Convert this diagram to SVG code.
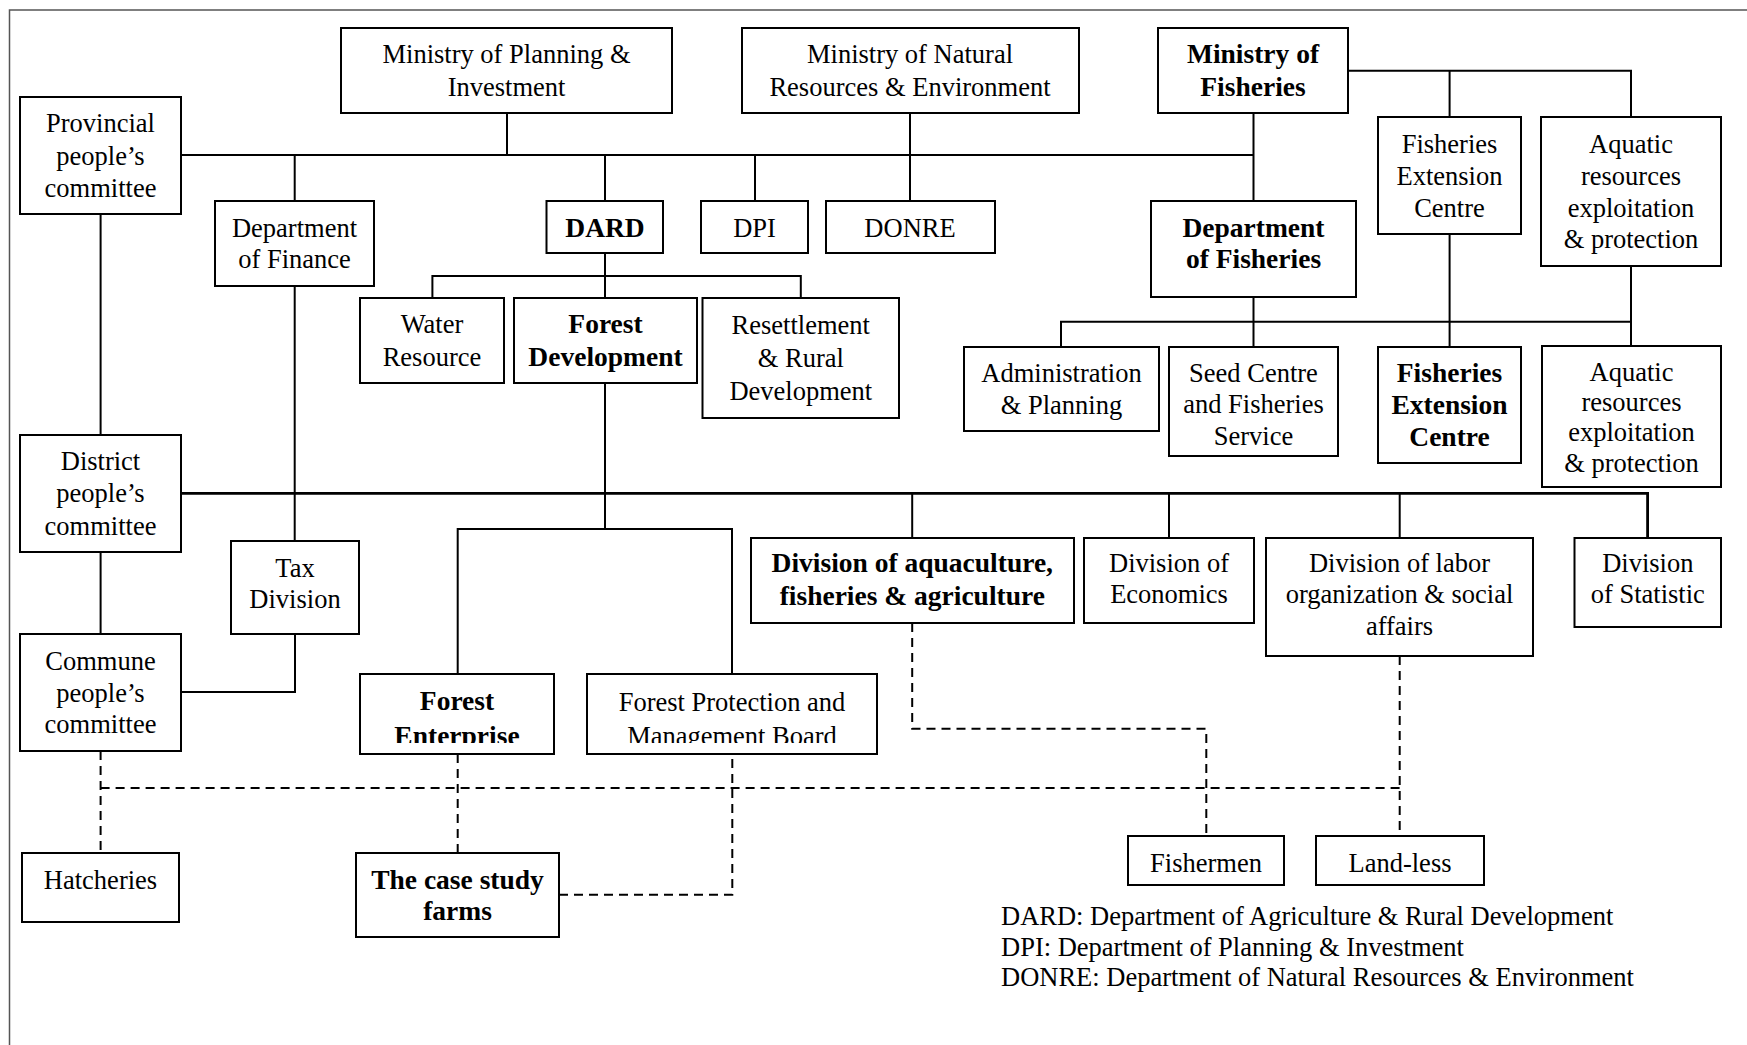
<svg xmlns="http://www.w3.org/2000/svg" width="1747" height="1045" viewBox="0 0 1747 1045">
<style>
.box{fill:#fff;stroke:#000;stroke-width:2}
.t{font-family:"Liberation Serif","Times New Roman",serif;font-size:26.5px;text-anchor:middle;fill:#000}
.b{font-weight:bold;font-size:27.5px}
.c{fill:none;stroke:#000;stroke-width:2}
.thick{stroke-width:2.8}
.d{fill:none;stroke:#000;stroke-width:2;stroke-dasharray:9 6}
.leg{font-family:"Liberation Serif","Times New Roman",serif;font-size:26.5px;fill:#000}
</style>
<defs>
<clipPath id="clipFE"><rect x="355" y="670" width="205" height="73"/></clipPath>
<clipPath id="clipFP"><rect x="585" y="670" width="295" height="73"/></clipPath>
</defs>
<rect width="1747" height="1045" fill="#fff"/>
<path d="M 9.5 1045 V 10 H 1747" fill="none" stroke="#555" stroke-width="1.5"/>
<g id="connectors">
<path class="c" d="M 181 155 H 1253.5"/>
<path class="c" d="M 507 113 V 155"/>
<path class="c" d="M 910 113 V 201"/>
<path class="c" d="M 1253.5 113 V 201"/>
<path class="c" d="M 294.7 155 V 201"/>
<path class="c" d="M 605 155 V 201"/>
<path class="c" d="M 755 155 V 201"/>
<path class="c" d="M 100.6 214 V 435"/>
<path class="c" d="M 294.7 286 V 541"/>
<path class="c" d="M 605 253 V 298"/>
<path class="c" d="M 432.4 298 V 276 H 800.8 V 298"/>
<path class="c" d="M 1348 70.7 H 1631 V 117"/>
<path class="c" d="M 1449.6 70.7 V 117"/>
<path class="c" d="M 1253.5 297 V 347"/>
<path class="c" d="M 1061 347 V 321.7 H 1631 V 346"/>
<path class="c" d="M 1449.6 234 V 347"/>
<path class="c" d="M 1631 266 V 321.7"/>
<path class="c thick" d="M 181 493.3 H 1647.6 V 538"/>
<path class="c" d="M 605 383 V 529"/>
<path class="c" d="M 457.7 674 V 529 H 732 V 674"/>
<path class="c" d="M 912.2 493 V 538"/>
<path class="c" d="M 1169 493 V 538"/>
<path class="c" d="M 1399.7 493 V 538"/>
<path class="c" d="M 100.6 552 V 634"/>
<path class="c" d="M 295 634 V 692 H 181"/>
<path class="d" d="M 100.6 751 V 853"/>
<path class="d" d="M 100.6 788 H 1400"/>
<path class="d" d="M 457.7 754 V 853"/>
<path class="d" d="M 559 894.7 H 732.3 V 754"/>
<path class="d" d="M 912.2 623 V 728.7 H 1206.3 V 836"/>
<path class="d" d="M 1399.7 656 V 836"/>
</g>
<g id="prov"><rect class="box" x="20" y="97" width="161" height="117"/><text class="t" x="100.5" y="132">Provincial</text><text class="t" x="100.5" y="165">people’s</text><text class="t" x="100.5" y="197">committee</text></g>
<g id="minplan"><rect class="box" x="341" y="28" width="331" height="85"/><text class="t" x="506.5" y="63">Ministry of Planning &amp;</text><text class="t" x="506.5" y="96">Investment</text></g>
<g id="minnat"><rect class="box" x="742" y="28" width="337" height="85"/><text class="t" x="910" y="63">Ministry of Natural</text><text class="t" x="910" y="96">Resources &amp; Environment</text></g>
<g id="minfish"><rect class="box" x="1158" y="28" width="190" height="85"/><text class="t b" x="1253" y="63">Ministry of</text><text class="t b" x="1253" y="96">Fisheries</text></g>
<g id="finance"><rect class="box" x="215" y="201" width="159" height="85"/><text class="t" x="294.5" y="237">Department</text><text class="t" x="294.5" y="268">of Finance</text></g>
<g id="dard"><rect class="box" x="546.5" y="201" width="116.5" height="52"/><text class="t b" x="605" y="237">DARD</text></g>
<g id="dpi"><rect class="box" x="701" y="201" width="107" height="52"/><text class="t" x="754.5" y="237">DPI</text></g>
<g id="donre"><rect class="box" x="826" y="201" width="169" height="52"/><text class="t" x="910" y="237">DONRE</text></g>
<g id="deptfish"><rect class="box" x="1151" y="201" width="205" height="96"/><text class="t b" x="1253.5" y="237">Department</text><text class="t b" x="1253.5" y="268">of Fisheries</text></g>
<g id="fec1"><rect class="box" x="1378" y="117" width="143" height="117"/><text class="t" x="1449.5" y="153">Fisheries</text><text class="t" x="1449.5" y="185">Extension</text><text class="t" x="1449.5" y="217">Centre</text></g>
<g id="aq1"><rect class="box" x="1541" y="117" width="180" height="149"/><text class="t" x="1631" y="153">Aquatic</text><text class="t" x="1631" y="185">resources</text><text class="t" x="1631" y="217">exploitation</text><text class="t" x="1631" y="248">&amp; protection</text></g>
<g id="water"><rect class="box" x="360" y="298" width="144" height="85"/><text class="t" x="432" y="333">Water</text><text class="t" x="432" y="366">Resource</text></g>
<g id="forestdev"><rect class="box" x="514" y="298" width="183" height="85"/><text class="t b" x="605.5" y="333">Forest</text><text class="t b" x="605.5" y="366">Development</text></g>
<g id="resettle"><rect class="box" x="702.5" y="298" width="196.5" height="120"/><text class="t" x="800.8" y="334">Resettlement</text><text class="t" x="800.8" y="367">&amp; Rural</text><text class="t" x="800.8" y="400">Development</text></g>
<g id="admin"><rect class="box" x="964" y="347" width="195" height="84"/><text class="t" x="1061.5" y="382">Administration</text><text class="t" x="1061.5" y="414">&amp; Planning</text></g>
<g id="seed"><rect class="box" x="1169" y="347" width="169" height="109"/><text class="t" x="1253.5" y="382">Seed Centre</text><text class="t" x="1253.5" y="413">and Fisheries</text><text class="t" x="1253.5" y="445">Service</text></g>
<g id="fec2"><rect class="box" x="1378" y="347" width="143" height="116"/><text class="t b" x="1449.5" y="382">Fisheries</text><text class="t b" x="1449.5" y="414">Extension</text><text class="t b" x="1449.5" y="446">Centre</text></g>
<g id="aq2"><rect class="box" x="1542" y="346" width="179" height="141"/><text class="t" x="1631.5" y="381">Aquatic</text><text class="t" x="1631.5" y="411">resources</text><text class="t" x="1631.5" y="441">exploitation</text><text class="t" x="1631.5" y="472">&amp; protection</text></g>
<g id="district"><rect class="box" x="20" y="435" width="161" height="117"/><text class="t" x="100.5" y="470">District</text><text class="t" x="100.5" y="502">people’s</text><text class="t" x="100.5" y="535">committee</text></g>
<g id="tax"><rect class="box" x="231" y="541" width="128" height="93"/><text class="t" x="295" y="577">Tax</text><text class="t" x="295" y="608">Division</text></g>
<g id="commune"><rect class="box" x="20" y="634" width="161" height="117"/><text class="t" x="100.5" y="670">Commune</text><text class="t" x="100.5" y="702">people’s</text><text class="t" x="100.5" y="733">committee</text></g>
<g id="forestent"><rect class="box" x="360" y="674" width="194" height="80"/><g clip-path="url(#clipFE)"><text class="t b" x="457" y="710">Forest</text><text class="t b" x="457" y="745">Enterprise</text></g></g>
<g id="fpmb"><rect class="box" x="587" y="674" width="290" height="80"/><g clip-path="url(#clipFP)"><text class="t" x="732" y="711">Forest Protection and</text><text class="t" x="732" y="745">Management Board</text></g></g>
<g id="divaqua"><rect class="box" x="751" y="538" width="323" height="85"/><text class="t b" x="912.3" y="572">Division of aquaculture,</text><text class="t b" x="912.3" y="605">fisheries &amp; agriculture</text></g>
<g id="econ"><rect class="box" x="1084" y="538" width="170" height="85"/><text class="t" x="1169" y="572">Division of</text><text class="t" x="1169" y="603">Economics</text></g>
<g id="labor"><rect class="box" x="1266" y="538" width="267" height="118"/><text class="t" x="1399.5" y="572">Division of labor</text><text class="t" x="1399.5" y="603">organization &amp; social</text><text class="t" x="1399.5" y="635">affairs</text></g>
<g id="stat"><rect class="box" x="1574.5" y="538" width="146.5" height="89"/><text class="t" x="1647.8" y="572">Division</text><text class="t" x="1647.8" y="603">of Statistic</text></g>
<g id="hatch"><rect class="box" x="22" y="853" width="157" height="69"/><text class="t" x="100.5" y="889">Hatcheries</text></g>
<g id="casestudy"><rect class="box" x="356" y="853" width="203" height="84"/><text class="t b" x="457.5" y="889">The case study</text><text class="t b" x="457.5" y="920">farms</text></g>
<g id="fishermen"><rect class="box" x="1128" y="836" width="156" height="49"/><text class="t" x="1206" y="872">Fishermen</text></g>
<g id="landless"><rect class="box" x="1316" y="836" width="168" height="49"/><text class="t" x="1400" y="872">Land-less</text></g>
<g id="legend">
<text class="leg" x="1001" y="925">DARD: Department of Agriculture &amp; Rural Development</text>
<text class="leg" x="1001" y="956">DPI: Department of Planning &amp; Investment</text>
<text class="leg" x="1001" y="986">DONRE: Department of Natural Resources &amp; Environment</text>
</g>
</svg>
